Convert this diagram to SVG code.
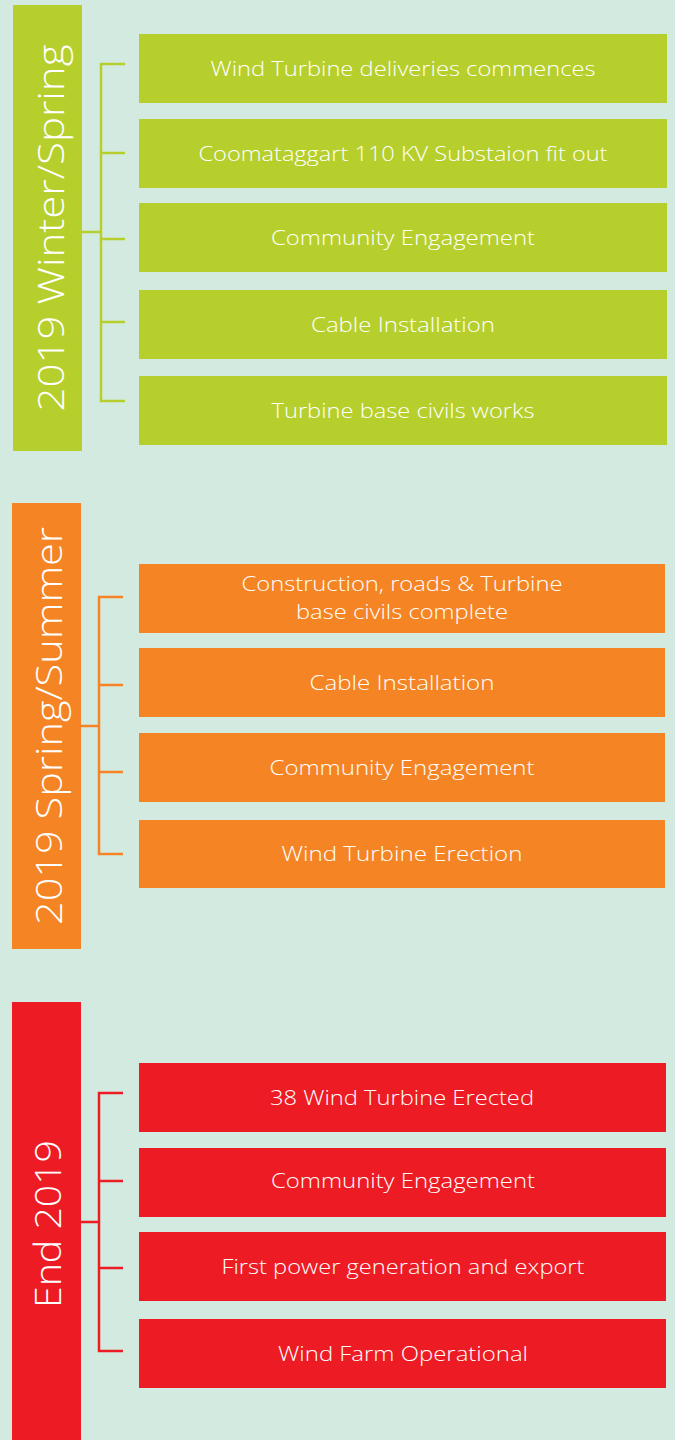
<svg xmlns="http://www.w3.org/2000/svg" width="675" height="1440" viewBox="0 0 675 1440">
<style>
.bg{fill:#d3eae0}
.g{fill:#b7cf2d}.o{fill:#f58524}.r{fill:#ed1c24}
.gs{stroke:#b7cf2d}.os{stroke:#f58524}.rs{stroke:#ed1c24}
.br{fill:none;stroke-width:2.5}
.t{font-family:"Open Sans","Noto Sans",sans-serif;font-size:20px;font-weight:300;fill:#fff;text-anchor:middle}
.h{font-family:"Open Sans","Noto Sans",sans-serif;font-size:36px;font-weight:300;fill:#fff;text-anchor:middle}
</style>
<rect class="bg" x="0" y="0" width="675" height="1440"/>
<g id="connectors">
<path class="br gs" d="M82 232H101M125 64H101V401H125M101 153H125M101 239H125M101 322H125"/>
<path class="br os" d="M81 726H99M123 597H99V854H123M99 685H123M99 772H123"/>
<path class="br rs" d="M81 1222H99M123 1093H99V1351H123M99 1181H123M99 1268H123"/>
</g>
<g id="phase1">
<rect class="g" x="13" y="5" width="69" height="446"/>
<text class="h" transform="translate(64,228) rotate(-90)" textLength="367" lengthAdjust="spacingAndGlyphs">2019 Winter/Spring</text>
</g>
<g id="n1"><rect class="g" x="139" y="34" width="528" height="69"/><text class="t" x="403" y="76" textLength="385" lengthAdjust="spacingAndGlyphs">Wind Turbine deliveries commences</text></g>
<g id="n2"><rect class="g" x="139" y="119" width="528" height="69"/><text class="t" x="403" y="161" textLength="409" lengthAdjust="spacingAndGlyphs">Coomataggart 110 KV Substaion fit out</text></g>
<g id="n3"><rect class="g" x="139" y="203" width="528" height="69"/><text class="t" x="403" y="245" textLength="264" lengthAdjust="spacingAndGlyphs">Community Engagement</text></g>
<g id="n4"><rect class="g" x="139" y="290" width="528" height="69"/><text class="t" x="403" y="332" textLength="184" lengthAdjust="spacingAndGlyphs">Cable Installation</text></g>
<g id="n5"><rect class="g" x="139" y="376" width="528" height="69"/><text class="t" x="403" y="418" textLength="263" lengthAdjust="spacingAndGlyphs">Turbine base civils works</text></g>
<g id="phase2">
<rect class="o" x="12" y="503" width="69" height="446"/>
<text class="h" transform="translate(62,726) rotate(-90)" textLength="398" lengthAdjust="spacingAndGlyphs">2019 Spring/Summer</text>
</g>
<g id="n6"><rect class="o" x="139" y="564" width="526" height="69"/><text class="t" x="402" y="591" textLength="321" lengthAdjust="spacingAndGlyphs">Construction, roads &amp; Turbine</text><text class="t" x="402" y="619" textLength="212" lengthAdjust="spacingAndGlyphs">base civils complete</text></g>
<g id="n7"><rect class="o" x="139" y="648" width="526" height="69"/><text class="t" x="402" y="690" textLength="185" lengthAdjust="spacingAndGlyphs">Cable Installation</text></g>
<g id="n8"><rect class="o" x="139" y="733" width="526" height="69"/><text class="t" x="402" y="775" textLength="265" lengthAdjust="spacingAndGlyphs">Community Engagement</text></g>
<g id="n9"><rect class="o" x="139" y="820" width="526" height="68"/><text class="t" x="402" y="861" textLength="241" lengthAdjust="spacingAndGlyphs">Wind Turbine Erection</text></g>
<g id="phase3">
<rect class="r" x="12" y="1002" width="69" height="438"/>
<text class="h" transform="translate(61,1224) rotate(-90)" textLength="168" lengthAdjust="spacingAndGlyphs">End 2019</text>
</g>
<g id="n10"><rect class="r" x="139" y="1063" width="527" height="69"/><text class="t" x="402" y="1105" textLength="264" lengthAdjust="spacingAndGlyphs">38 Wind Turbine Erected</text></g>
<g id="n11"><rect class="r" x="139" y="1148" width="527" height="69"/><text class="t" x="403" y="1188" textLength="264" lengthAdjust="spacingAndGlyphs">Community Engagement</text></g>
<g id="n12"><rect class="r" x="139" y="1232" width="527" height="69"/><text class="t" x="403" y="1274" textLength="363" lengthAdjust="spacingAndGlyphs">First power generation and export</text></g>
<g id="n13"><rect class="r" x="139" y="1319" width="527" height="69"/><text class="t" x="403" y="1361" textLength="250" lengthAdjust="spacingAndGlyphs">Wind Farm Operational</text></g>
</svg>
